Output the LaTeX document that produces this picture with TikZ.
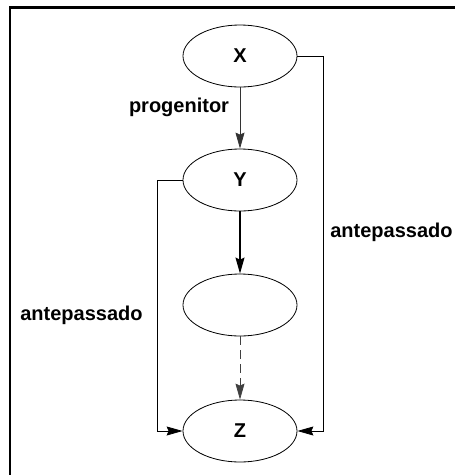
\documentclass[tikz,border=0pt]{standalone}
\usepackage{fontspec}
\setmainfont{Liberation Sans}
\usetikzlibrary{arrows.meta,shapes.geometric}
\begin{document}
\begin{tikzpicture}[x=1pt,y=-1pt,
  oval/.style={draw,ellipse,line width=0.8pt,minimum width=114pt,minimum height=62pt,inner sep=0pt,font=\fontsize{20}{24}\selectfont\bfseries},
  lbl/.style={font=\fontsize{20}{24}\selectfont\bfseries,inner sep=0pt},
  conn/.style={line width=0.8pt,-{Stealth[length=16pt,width=9pt,inset=2pt]}},
  frame/.style={line width=2.2pt}]
\useasboundingbox (0,0) rectangle (455,475);
\draw[frame] (10,475) -- (10,7.5) -- (455,7.5);
\node[oval] (X) at (240,56) {X};
\node[oval] (Y) at (240,180) {Y};
\node[oval] (M) at (240,305) {};
\node[oval] (Z) at (240,431) {Z};
\coordinate (R) at (323,56);
\coordinate (L) at (157,180);
\draw[conn,black!80] (X) -- (Y);
\draw[conn,line width=1.4pt] (Y) -- (M);
\draw[conn,black!75,dash pattern=on 9pt off 5pt] (M) -- (Z);
\draw[conn] (X.east) -- (R) |- (Z.east);
\draw[conn] (Y.west) -- (L) |- (Z.west);
\node[lbl] (p) at (179,107) {progenitor};
\node[lbl] (a1) at (391.5,232) {antepassado};
\node[lbl] (a2) at (81.5,315) {antepassado};
\end{tikzpicture}
\end{document}
